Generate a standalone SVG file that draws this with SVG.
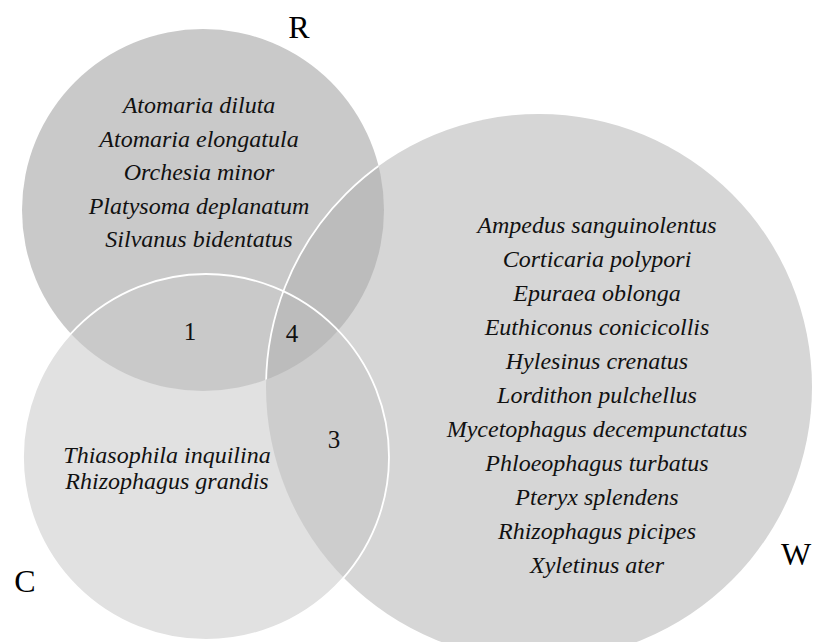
<svg xmlns="http://www.w3.org/2000/svg" width="821" height="642" viewBox="0 0 821 642">
<style>
.sp{font-family:"Liberation Serif","Times New Roman",serif;font-style:italic;font-size:24px;fill:#111;text-anchor:middle}
.num{font-family:"Liberation Serif","Times New Roman",serif;font-size:25px;fill:#111;text-anchor:middle}
.set{font-family:"Liberation Serif","Times New Roman",serif;font-size:32px;fill:#000;text-anchor:middle}
</style>
<defs>
<clipPath id="clipR"><circle cx="203" cy="210" r="181"/></clipPath>
<clipPath id="clipW"><circle cx="539" cy="387" r="273"/></clipPath>
</defs>
<rect width="821" height="642" fill="#ffffff"/>
<g id="R">
<circle cx="203" cy="210" r="181" fill="#c9c9c9"/>
</g>
<g id="W">
<circle cx="539" cy="387" r="273" fill="#d6d6d6"/>
<circle cx="539" cy="387" r="273" fill="#bcbcbc" clip-path="url(#clipR)"/>
</g>
<g id="C">
<circle cx="206" cy="457" r="183" fill="#e1e1e1"/>
<circle cx="206" cy="457" r="183" fill="#c9c9c9" clip-path="url(#clipR)"/>
<circle cx="206" cy="457" r="183" fill="#cdcdcd" clip-path="url(#clipW)"/>
<g clip-path="url(#clipR)"><circle cx="206" cy="457" r="183" fill="#bcbcbc" clip-path="url(#clipW)"/></g>
</g>
<g id="outlines" fill="none" stroke="#ffffff" stroke-width="1.8">
<circle cx="539" cy="387" r="273" clip-path="url(#clipR)"/>
<circle cx="206" cy="457" r="183"/>
</g>
<g id="labels">
<text class="set" x="299" y="38">R</text>
<text class="set" x="25" y="592">C</text>
<text class="set" x="796" y="565">W</text>
<text class="num" x="190" y="340">1</text>
<text class="num" x="292" y="342">4</text>
<text class="num" x="334" y="448">3</text>
</g>
<g id="textR">
<text class="sp" x="199" y="113">Atomaria diluta</text>
<text class="sp" x="199" y="147">Atomaria elongatula</text>
<text class="sp" x="199" y="180">Orchesia minor</text>
<text class="sp" x="199" y="214">Platysoma deplanatum</text>
<text class="sp" x="199" y="247">Silvanus bidentatus</text>
</g>
<g id="textC">
<text class="sp" x="167" y="463">Thiasophila inquilina</text>
<text class="sp" x="167" y="489">Rhizophagus grandis</text>
</g>
<g id="textW">
<text class="sp" x="597" y="233">Ampedus sanguinolentus</text>
<text class="sp" x="597" y="267">Corticaria polypori</text>
<text class="sp" x="597" y="301">Epuraea oblonga</text>
<text class="sp" x="597" y="335">Euthiconus conicicollis</text>
<text class="sp" x="597" y="369">Hylesinus crenatus</text>
<text class="sp" x="597" y="403">Lordithon pulchellus</text>
<text class="sp" x="597" y="437">Mycetophagus decempunctatus</text>
<text class="sp" x="597" y="471">Phloeophagus turbatus</text>
<text class="sp" x="597" y="505">Pteryx splendens</text>
<text class="sp" x="597" y="539">Rhizophagus picipes</text>
<text class="sp" x="597" y="573">Xyletinus ater</text>
</g>
</svg>
